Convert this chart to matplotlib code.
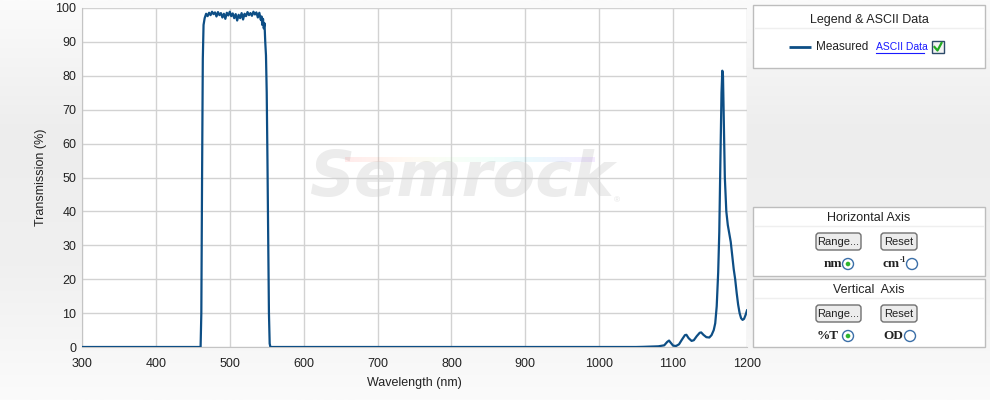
import numpy as np
import matplotlib
matplotlib.use("Agg")
import matplotlib.pyplot as plt
from matplotlib.patches import Rectangle, FancyBboxPatch, Circle
from matplotlib.colors import LinearSegmentedColormap

plt.rcParams['font.family'] = ['Liberation Sans', 'DejaVu Sans']

# ---------------- data ----------------
wavelength = [300, 460.5, 461.5, 462.5, 463.5, 464.5, 466,
              468, 470, 472, 474, 476, 478, 480, 482, 484, 486, 488, 490, 492, 494,
              496, 498, 500, 502, 504, 506, 508, 510, 512, 514, 516, 518, 520, 522,
              524, 526, 528, 530, 532, 534, 536, 538, 540, 542, 543, 544, 545, 546,
              547, 548, 549, 550, 551, 552, 553, 554, 555,
              1050, 1060, 1080, 1088, 1092, 1094.5, 1097, 1100, 1104, 1108, 1112,
              1116, 1118, 1121, 1125, 1128, 1132, 1136, 1138, 1141, 1145, 1149,
              1152, 1155, 1157, 1159, 1161, 1162.5, 1164, 1165.5, 1166.6, 1167.5,
              1168.5, 1170, 1172, 1174, 1176, 1178, 1180, 1182, 1184, 1186, 1188,
              1190, 1192, 1194, 1196, 1198, 1200]
transmission = [0, 0, 10, 50, 85, 95, 97.0,
                98.3, 97.6, 98.6, 97.9, 98.9, 98.2, 98.7, 97.5, 98.8, 97.9, 98.5, 97.2, 98.3, 96.8,
                98.6, 97.8, 98.9, 97.6, 98.4, 97.0, 98.2, 96.3, 98.0, 97.0, 98.5, 96.6, 98.3, 97.6,
                98.8, 97.9, 98.5, 97.7, 98.9, 98.1, 98.7, 97.2, 98.6, 96.5, 97.5, 95.0, 96.8, 94.0,
                95.5, 90.0, 86.0, 75.0, 55.0, 32.0, 10.0, 1.0, 0,
                0, 0.05, 0.2, 0.5, 1.5, 1.9, 1.2, 0.4, 0.3, 0.8, 2.2,
                3.5, 3.6, 2.6, 1.8, 2.0, 3.2, 4.2, 4.3, 3.6, 2.9, 2.8,
                3.5, 5.0, 7.0, 12, 22, 34, 55, 75, 81.5, 80,
                68, 50, 40, 36, 33.5, 31, 27, 23, 20, 16, 12.5,
                10, 8.5, 8.0, 8.3, 9.4, 10.8]

x_ticks = [300, 400, 500, 600, 700, 800, 900, 1000, 1100, 1200]
y_ticks = [0, 10, 20, 30, 40, 50, 60, 70, 80, 90, 100]

LINE = '#0d4e85'
TXT = '#222222'

W, H = 990, 400
fig = plt.figure(figsize=(W / 100, H / 100), dpi=100)

# ---------------- background gradient ----------------
bg = fig.add_axes([0, 0, 1, 1], zorder=-2)
cmap_bg = LinearSegmentedColormap.from_list('bg', ['#fbfbfb', '#ededed', '#f0f0f0', '#fbfbfb'])
grad = np.linspace(0, 1, 256).reshape(-1, 1)
bg.imshow(grad, aspect='auto', cmap=cmap_bg, extent=[0, 1, 0, 1], origin='upper')
bg.set_axis_off()

# ---------------- main plot ----------------
L, R, T, B = 82, 747, 8, 347
ax = fig.add_axes([L / W, 1 - B / H, (R - L) / W, (B - T) / H])
ax.set_facecolor('white')
ax.plot(wavelength, transmission, color=LINE, lw=1.6, solid_joinstyle='round', zorder=3)
ax.set_xlim(300, 1200)
ax.set_ylim(0, 100)
ax.set_xticks(x_ticks)
ax.set_yticks(y_ticks)
ax.grid(True, color='#d2d2d2', lw=1)
ax.set_axisbelow(True)
for s in ['top', 'right']:
    ax.spines[s].set_visible(False)
for s in ['left', 'bottom']:
    ax.spines[s].set_color('#c4c4c4')
ax.tick_params(axis='both', length=0, labelsize=9, colors=TXT)
ax.tick_params(axis='x', pad=8)
ax.tick_params(axis='y', pad=4)
ax.set_xlabel('Wavelength (nm)', fontsize=9, color=TXT, labelpad=5)
ax.set_ylabel('Transmission (%)', fontsize=9, color=TXT, labelpad=6)

# watermark (centred near pixel x=462, y=180)
ax.text(814, 49.5, 'Semrock', fontsize=45, fontweight='bold', style='italic',
        color='#ececec', ha='center', va='center', zorder=0.2,
        family='DejaVu Sans')
ax.text(1024, 43, '®', fontsize=6, color='#e3e3e3', ha='center', va='center', zorder=0.2)

# ---------------- overlay (pixel coordinates) ----------------
ov = fig.add_axes([0, 0, 1, 1], zorder=5)
ov.set_axis_off()
ov.patch.set_alpha(0)

# rainbow stripe of watermark
stripe = np.linspace(0, 1, 200).reshape(1, -1)
ov.imshow(stripe, cmap='rainbow_r', alpha=0.08, extent=[345, 595, 162, 157],
          aspect='auto', zorder=1)
ov.set_xlim(0, W)
ov.set_ylim(H, 0)


def panel(x0, y0, x1, y1, title, ty, sep):
    ov.add_patch(Rectangle((x0, y0), x1 - x0, y1 - y0, facecolor='white',
                           edgecolor='#bdbdbd', lw=1, zorder=2))
    ov.plot([x0 + 2, x1 - 2], [sep, sep], color='#efefef', lw=1, zorder=3)
    ov.text((x0 + x1) / 2, ty, title, fontsize=9, color=TXT, ha='center',
            va='center', zorder=4)


def button(x0, y0, x1, y1, label):
    ov.add_patch(FancyBboxPatch((x0, y0), x1 - x0, y1 - y0,
                                boxstyle='round,pad=0,rounding_size=3',
                                facecolor='#ececec', edgecolor='#707070', lw=1, zorder=4))
    ov.text((x0 + x1) / 2, (y0 + y1) / 2 + 0.5, label, fontsize=8, color=TXT,
            ha='center', va='center', zorder=5)


def radio(x, y, on):
    ov.add_patch(Circle((x, y), 5.5, facecolor='white', edgecolor='#3b6fa8', lw=1, zorder=4))
    if on:
        ov.add_patch(Circle((x, y), 2.3, facecolor='#2db52d', edgecolor='none', zorder=5))


# Legend panel
panel(753, 5, 985, 68, 'Legend & ASCII Data', 20, 28)
ov.plot([789, 811], [47, 47], color=LINE, lw=2, zorder=4, solid_capstyle='butt')
ov.text(816, 47.5, 'Measured', fontsize=8.5, color=TXT, ha='left', va='center', zorder=4)
ov.text(876, 47.5, 'ASCII Data', fontsize=7.5, color='#1a1aff', ha='left', va='center', zorder=4)
ov.plot([876, 924], [53, 53], color='#1a1aff', lw=0.8, zorder=4)
ov.add_patch(Rectangle((932, 41), 12, 12, facecolor='#f4f4f4', edgecolor='#2d4b6a', lw=1, zorder=4))
ov.plot([934.5, 937.5, 941.5], [47, 50.5, 43], color='#22aa22', lw=1.6, zorder=5)

# Horizontal axis panel
panel(753, 207, 985, 276, 'Horizontal Axis', 218, 226)
button(816, 233, 861, 250, 'Range...')
button(881, 233, 917, 250, 'Reset')
ov.text(833, 264, 'nm', fontsize=9.5, fontweight='bold', family='Liberation Serif',
        color=TXT, ha='center', va='center', zorder=4)
radio(848, 264, True)
ov.text(891, 264, 'cm', fontsize=9.5, fontweight='bold', family='Liberation Serif',
        color=TXT, ha='center', va='center', zorder=4)
ov.text(900, 260, '-1', fontsize=5.5, fontweight='bold', family='Liberation Serif',
        color=TXT, ha='left', va='center', zorder=4)
radio(912, 264, False)

# Vertical axis panel
panel(753, 279, 985, 347, 'Vertical  Axis', 290, 298)
button(816, 305, 861, 322, 'Range...')
button(881, 305, 917, 322, 'Reset')
ov.text(828, 336, '%T', fontsize=9.5, fontweight='bold', family='Liberation Serif',
        color=TXT, ha='center', va='center', zorder=4)
radio(848, 336, True)
ov.text(893, 336, 'OD', fontsize=9.5, fontweight='bold', family='Liberation Serif',
        color=TXT, ha='center', va='center', zorder=4)
radio(910, 336, False)

fig.savefig('out.png', dpi=100)
